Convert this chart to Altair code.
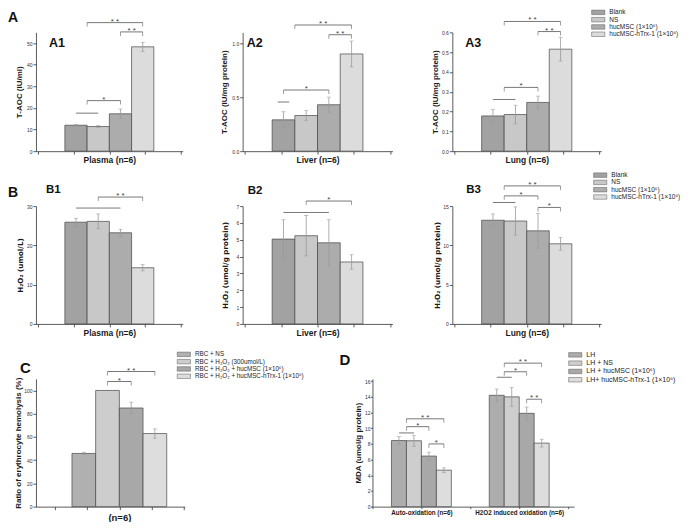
import altair as alt
import pandas as pd

# ---------------- data ----------------
groups_ab = ["Blank", "NS", "hucMSC (1×10⁶)", "hucMSC-hTrx-1 (1×10⁶)"]

a1_mean = [12.0, 11.4, 17.3, 48.3]
a1_err = [0.4, 0.5, 2.2, 2.1]
a2_mean = [0.29, 0.33, 0.43, 0.90]
a2_err = [0.075, 0.045, 0.07, 0.12]
a3_mean = [0.178, 0.185, 0.246, 0.515]
a3_err = [0.032, 0.047, 0.032, 0.06]

b1_mean = [25.9, 26.1, 23.2, 14.3]
b1_err = [1.0, 1.9, 0.9, 0.8]
b2_mean = [5.04, 5.24, 4.82, 3.68]
b2_err = [1.15, 1.2, 1.37, 0.43]
b3_mean = [13.2, 13.1, 11.85, 10.2]
b3_err = [0.8, 1.8, 2.2, 0.8]

groups_c = ["RBC + NS", "RBC + H₂O₂ (300umol/L)", "RBC + H₂O₂ + hucMSC (1×10⁶)",
            "RBC + H₂O₂ + hucMSC-hTrx-1 (1×10⁶)"]
c_mean = [45.8, 100.0, 84.9, 62.9]
c_err = [1.0, 0.0, 5.0, 4.0]

groups_d = ["LH", "LH + NS", "LH + hucMSC (1×10⁶)", "LH+ hucMSC-hTrx-1 (1×10⁶)"]
d_conditions = ["Auto-oxidation (n=6)", "H2O2 induced oxidation (n=6)"]
d_auto_mean = [8.43, 8.4, 6.45, 4.65]
d_auto_err = [0.5, 0.7, 0.5, 0.3]
d_h2o2_mean = [14.2, 14.0, 11.9, 8.1]
d_h2o2_err = [0.8, 1.2, 0.8, 0.5]

# significance brackets: from bar, to bar, level, label ("" = plain group line)
a1_sig_from = [0, 0.5, 0.5, 2]
a1_sig_to = [1, 2, 3, 3]
a1_sig_level = [17.6, 23.4, 59.5, 55.2]
a1_sig_text = ["", "*", "* *", "* *"]

a2_sig_from = [-0.25, 0, 0.5, 2]
a2_sig_to = [0.25, 2, 3, 3]
a2_sig_level = [0.455, 0.566, 1.168, 1.078]
a2_sig_text = ["", "*", "* *", "* *"]

a3_sig_from = [0, 0.5, 0.5, 2]
a3_sig_to = [1, 2, 3, 3]
a3_sig_level = [0.261, 0.322, 0.655, 0.604]
a3_sig_text = ["", "*", "* *", "* *"]

b1_sig_from = [0, 1]
b1_sig_to = [2, 3]
b1_sig_level = [29.5, 32.3]
b1_sig_text = ["", "* *"]

b2_sig_from = [0, 1]
b2_sig_to = [2, 3]
b2_sig_level = [6.62, 7.3]
b2_sig_text = ["", "*"]

b3_sig_from = [0, 0.5, 0.5, 2]
b3_sig_to = [1, 2, 3, 3]
b3_sig_level = [15.46, 16.3, 17.57, 14.83]
b3_sig_text = ["", "*", "* *", "*"]

c_sig_from = [1, 1]
c_sig_to = [2, 3]
c_sig_level = [107.7, 116.3]
c_sig_text = ["*", "* *"]

d_auto_sig_from = [0, 0.5, 0.5, 2]
d_auto_sig_to = [1, 2, 3, 3]
d_auto_sig_level = [9.4, 10.2, 11.2, 8.0]
d_auto_sig_text = ["", "*", "* *", "*"]

d_h2o2_sig_from = [0, 0.5, 0.5, 2]
d_h2o2_sig_to = [1, 2, 3, 3]
d_h2o2_sig_level = [16.5, 17.2, 18.3, 13.7]
d_h2o2_sig_text = ["", "*", "* *", "* *"]

# ---------------- styling ----------------
FONT = "Liberation Sans"
BAR_STROKE = "#454545"
ERR_COLOR = "#9a9a9a"
SIG_COLOR = "#555555"
ab_colors = ["#a2a2a2", "#c8c8c8", "#acacac", "#dcdcdc"]
c_colors = ["#b0b0b0", "#cdcdcd", "#a8a8a8", "#dddddd"]
d_colors = ["#adadad", "#cecece", "#a8a8a8", "#dddddd"]
D_GAP = 6.53  # distance between the two groups of panel D, in bar widths


def make_bars(cats, means, errs, offset=0.0):
    rows = []
    for i, (c, m, e) in enumerate(zip(cats, means, errs)):
        xc = offset + i
        rows.append(dict(cat=c, mean=m, lo=m - e, hi=m + e,
                         x0=xc - 0.5, x1=xc + 0.5, xc=xc, zero=0.0))
    return pd.DataFrame(rows)


def make_sig(frm, to, lvl, txt, offset=0.0):
    return pd.DataFrame(dict(
        a=[offset + f for f in frm], b=[offset + t for t in to],
        m=[offset + (f + t) / 2 for f, t in zip(frm, to)],
        lvl=lvl, lab=txt))


def legend_def(x, y, size, stride_pad=0.3):
    return alt.Legend(orient="none", legendX=x, legendY=y, title=None,
                      symbolType="M-2.2,-0.75H2.2V0.75H-2.2Z", symbolSize=36,
                      symbolStrokeColor="#555", symbolStrokeWidth=0.5,
                      symbolOpacity=1, labelFontSize=size, labelColor="#222",
                      labelFont=FONT, labelOffset=7.6, rowPadding=stride_pad,
                      padding=0, labelLimit=400)


def panel(bars, sig, *, cats, colors, width, height, xdom, xticks, xlabels,
          xlab_size, xlab_pad, xtick_size, ymax, yvals, yfmt, ytitle, ytitle_x,
          ytick_size=3, ylab_pad=1, legend=None, texts=(), spacer=None,
          title_font=FONT, title_size=8):
    xs = alt.Scale(domain=xdom, nice=False, zero=False)
    ys = alt.Scale(domain=[0, ymax], nice=False, zero=True)
    expr = ""
    for v, lab in xlabels:
        expr += f"abs(datum.value - ({v})) < 0.001 ? '{lab}' : "
    expr += "''"
    xaxis = alt.Axis(values=xticks, labelExpr=expr, title=None, grid=False,
                     labelFontSize=xlab_size, labelFontWeight="bold",
                     labelPadding=xlab_pad, tickSize=xtick_size,
                     labelOverlap=False, labelFlush=False, labelBound=False,
                     labelAngle=0, labelColor="#1a1a1a", labelBaseline="top",
                     domainColor="#333", tickColor="#333",
                     domainWidth=0.8, tickWidth=0.8)
    yaxis = alt.Axis(values=yvals, format=yfmt, title=ytitle, grid=False,
                     labelFontSize=5, labelColor="#333", labelPadding=ylab_pad,
                     tickSize=ytick_size, tickColor="#333", domainColor="#333",
                     domainWidth=0.8, tickWidth=0.8, labelFlush=False,
                     labelOverlap=False, titleFontSize=title_size,
                     titleFont=title_font,
                     titleFontWeight="bold", titleColor="#1a1a1a",
                     titleX=ytitle_x, titleY=height / 2, titleAngle=270,
                     titleBaseline="bottom", titleAlign="center")
    X = lambda f: alt.X(f, scale=xs, axis=xaxis)
    Y = lambda f: alt.Y(f, scale=ys, axis=yaxis)

    layers = []
    bar = alt.Chart(bars).mark_rect(stroke=BAR_STROKE, strokeWidth=0.7).encode(
        x=X("x0:Q"), x2="x1:Q",
        y=Y("mean:Q"), y2="zero:Q",
        color=alt.Color("cat:N", scale=alt.Scale(domain=cats, range=colors),
                        legend=legend),
    )
    layers.append(bar)
    err = alt.Chart(bars).transform_filter("datum.hi > datum.lo").mark_rule(
        color=ERR_COLOR, strokeWidth=0.8).encode(x=X("xc:Q"), y=Y("lo:Q"), y2="hi:Q")
    caps = alt.Chart(bars).transform_filter("datum.hi > datum.lo").transform_fold(
        ["lo", "hi"], as_=["k", "v"]).mark_tick(
        orient="horizontal", size=4, thickness=0.8, color=ERR_COLOR).encode(
        x=X("xc:Q"), y=Y("v:Q"))
    layers += [err, caps]
    line = alt.Chart(sig).mark_rule(color=SIG_COLOR, strokeWidth=0.8).encode(
        x=X("a:Q"), x2="b:Q", y=Y("lvl:Q"))
    ticks = alt.Chart(sig).transform_filter("datum.lab != ''").transform_fold(
        ["a", "b"], as_=["k", "v"]).mark_tick(
        orient="vertical", size=4, thickness=0.8, color=SIG_COLOR, yOffset=2).encode(
        x=X("v:Q"), y=Y("lvl:Q"))
    stars = alt.Chart(sig).transform_filter("datum.lab != ''").mark_text(
        fontSize=8, color="#444", baseline="alphabetic", dy=1).encode(
        x=X("m:Q"), y=Y("lvl:Q"), text="lab:N")
    layers += [line, ticks, stars]
    for (t, x, y, size) in texts:
        layers.append(alt.Chart(pd.DataFrame({"t": [t]})).mark_text(
            align="left", baseline="alphabetic", fontSize=size,
            fontWeight="bold", color="#111").encode(
            x=alt.value(x), y=alt.value(y), text="t:N"))
    if spacer is not None:
        x1, x2, y1, y2 = spacer
        layers.append(alt.Chart(pd.DataFrame({"s": [0]})).mark_rect(opacity=0).encode(
            x=alt.value(x1), x2=alt.value(x2), y=alt.value(y1), y2=alt.value(y2)))
    return alt.layer(*layers).properties(width=width, height=height)


AB_DOM = [-1.8, 4.8]
AB_TICKS = [-1.7, -0.1, 1.5, 3.1, 4.7]
HA, HB, HC = 119, 118, 128
B_TITLE = dict(title_font="DejaVu Sans", title_size=7.2)

common_ab = dict(cats=groups_ab, colors=ab_colors, xdom=AB_DOM, xticks=AB_TICKS,
                 xlab_size=8.5, xlab_pad=1.5, xtick_size=3)

A1 = panel(make_bars(groups_ab, a1_mean, a1_err),
           make_sig(a1_sig_from, a1_sig_to, a1_sig_level, a1_sig_text),
           width=147, height=HA, xlabels=[(1.5, "Plasma (n=6)")], ymax=55,
           yvals=[0, 10, 20, 30, 40, 50], yfmt="d", ytitle="T-AOC (IU/ml)",
           ytitle_x=-12, texts=[("A", -28, -10, 14), ("A1", 13, 15, 12.5)],
           spacer=(-28, 0, -24, 139), **common_ab)
A2 = panel(make_bars(groups_ab, a2_mean, a2_err),
           make_sig(a2_sig_from, a2_sig_to, a2_sig_level, a2_sig_text),
           width=150, height=HA, xlabels=[(1.5, "Liver (n=6)")], ymax=1.1,
           yvals=[0, 0.5, 1.0], yfmt=".1f", ytitle="T-AOC (IU/mg protein)",
           ytitle_x=-14, texts=[("A2", 4, 15, 12.5)], **common_ab)
A3 = panel(make_bars(groups_ab, a3_mean, a3_err),
           make_sig(a3_sig_from, a3_sig_to, a3_sig_level, a3_sig_text),
           width=149, height=HA, xlabels=[(1.5, "Lung (n=6)")], ymax=0.6,
           yvals=[0, 0.1, 0.2, 0.3, 0.4, 0.5, 0.6], yfmt=".1f",
           ytitle="T-AOC (IU/mg protein)", ytitle_x=-13,
           texts=[("A3", 13, 15, 12.5)],
           legend=legend_def(142.6, -23.5, 6.5), **common_ab)

B1 = panel(make_bars(groups_ab, b1_mean, b1_err),
           make_sig(b1_sig_from, b1_sig_to, b1_sig_level, b1_sig_text),
           width=147, height=HB, xlabels=[(1.5, "Plasma (n=6)")], ymax=30,
           yvals=[0, 10, 20, 30], yfmt="d", ytitle="H₂O₂ (umol/L)",
           ytitle_x=-11, texts=[("B", -28, -9, 14), ("B1", 10, -13, 11.5)],
           spacer=(-20, 0, -35, 144), **B_TITLE, **common_ab)
B2 = panel(make_bars(groups_ab, b2_mean, b2_err),
           make_sig(b2_sig_from, b2_sig_to, b2_sig_level, b2_sig_text),
           width=150, height=HB, xlabels=[(1.5, "Liver (n=6)")], ymax=7,
           yvals=[0, 1, 2, 3, 4, 5, 6, 7], yfmt="d",
           ytitle="H₂O₂ (umol/g protein)", ytitle_x=-13,
           texts=[("B2", 5, -12, 11.5)], **B_TITLE, **common_ab)
B3 = panel(make_bars(groups_ab, b3_mean, b3_err),
           make_sig(b3_sig_from, b3_sig_to, b3_sig_level, b3_sig_text),
           width=149, height=HB, xlabels=[(1.5, "Lung (n=6)")], ymax=15,
           yvals=[0, 5, 10, 15], yfmt="d", ytitle="H₂O₂ (umol/g protein)",
           ytitle_x=-11, texts=[("B3", 14, -13, 11.5)],
           legend=legend_def(144.6, -34.5, 6.5), **B_TITLE, **common_ab)

C = panel(make_bars(groups_c, c_mean, c_err),
          make_sig(c_sig_from, c_sig_to, c_sig_level, c_sig_text),
          cats=groups_c, colors=c_colors, width=149, height=HC,
          xdom=[-2.02, 4.26], xticks=[-1.2, 0.15, 1.5, 2.85, 4.2],
          xlabels=[(1.5, "(n=6)")], xlab_size=9.5, xlab_pad=2.5, xtick_size=3,
          ymax=110, yvals=[0, 20, 40, 60, 80, 100], yfmt="d",
          ytitle="Ratio of erythrocyte hemolysis (%)", ytitle_x=-13.5,
          texts=[("C", -16, -6, 15)], spacer=(-20, 0, -29, 0),
          legend=legend_def(144.6, -28, 6.3))

d_bars = pd.concat([make_bars(groups_d, d_auto_mean, d_auto_err, 0.0),
                    make_bars(groups_d, d_h2o2_mean, d_h2o2_err, D_GAP)],
                   ignore_index=True)
d_sig = pd.concat([make_sig(d_auto_sig_from, d_auto_sig_to, d_auto_sig_level,
                            d_auto_sig_text, 0.0),
                   make_sig(d_h2o2_sig_from, d_h2o2_sig_to, d_h2o2_sig_level,
                            d_h2o2_sig_text, D_GAP)], ignore_index=True)
D = panel(d_bars, d_sig, cats=groups_d, colors=d_colors, width=202, height=HC,
          xdom=[-1.77, 11.7],
          xticks=[-1.765, 1.5, 1.5 + D_GAP / 2, 1.5 + D_GAP, 1.5 + 1.5 * D_GAP],
          xlabels=[(1.5, d_conditions[0]), (1.5 + D_GAP, d_conditions[1])],
          xlab_size=6.3, xlab_pad=0.8, xtick_size=2,
          ymax=16.3, yvals=[0, 2, 4, 6, 8, 10, 12, 14, 16], yfmt="d",
          ytitle="MDA (umol/g protein)", ytitle_x=-10, ytick_size=2, ylab_pad=0.5,
          texts=[("D", -33, -14, 15)], legend=legend_def(199.6, -27.5, 7))

rowA = alt.hconcat(A1, A2, A3, spacing=60, bounds="flush").resolve_scale(color="independent")
rowB = alt.hconcat(B1, B2, B3, spacing=60, bounds="flush").resolve_scale(color="independent")
rowC = alt.hconcat(C, D, spacing=188, bounds="flush").resolve_scale(color="independent")

chart = alt.vconcat(rowA, rowB, rowC, spacing=0).resolve_scale(
    color="independent").properties(padding=0).configure(font=FONT).configure_view(stroke=None)

chart.save("out.html", embed_options={"renderer": "svg", "actions": False})
